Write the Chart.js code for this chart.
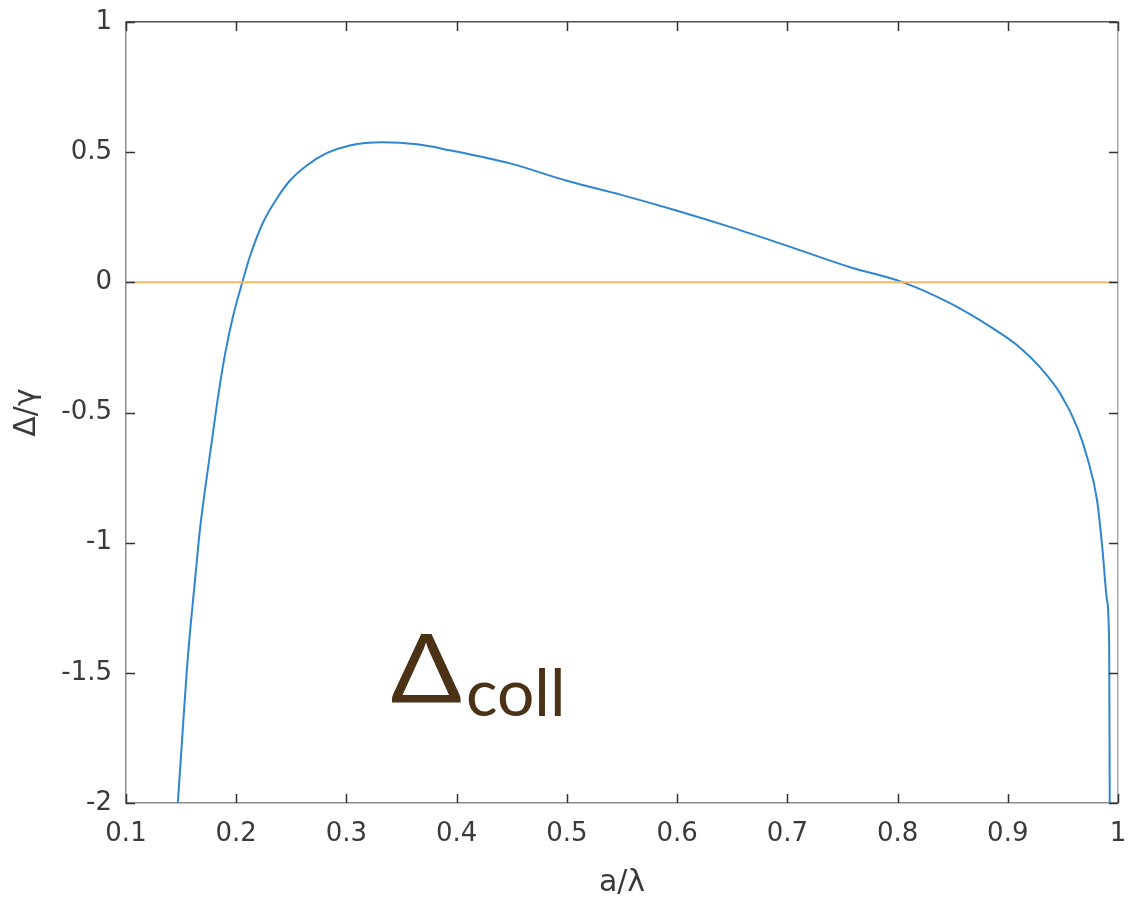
<!DOCTYPE html>
<html>
<head>
<meta charset="utf-8">
<script src="https://cdn.jsdelivr.net/npm/chart.js@4/dist/chart.umd.min.js"></script>
<style>
  html, body { margin: 0; padding: 0; background: #fff; }
  #wrap { width: 1134px; height: 901px; }
</style>
</head>
<body>
<div id="wrap"><canvas id="deltaChart"></canvas></div>
<script>
// a/lambda values and collective shift Delta/gamma
const aOverLambda = [
  0.147, 0.151, 0.155, 0.1588, 0.1626, 0.167, 0.172, 0.178, 0.1835, 0.190,
  0.197, 0.2055, 0.2125, 0.224, 0.237, 0.249, 0.264, 0.282, 0.303, 0.333,
  0.364, 0.394, 0.45, 0.5, 0.55, 0.6, 0.65, 0.7, 0.757, 0.805,
  0.848, 0.884, 0.908, 0.929, 0.948, 0.963, 0.972, 0.981, 0.986, 0.990,
  0.992, 0.9925
];
const deltaColl = [
  -2.0, -1.75, -1.5, -1.31, -1.145, -0.953, -0.787, -0.607, -0.44, -0.273,
  -0.132, 0.0, 0.1, 0.227, 0.323, 0.392, 0.449, 0.496, 0.526, 0.538,
  0.530, 0.507, 0.455, 0.39, 0.335, 0.275, 0.21, 0.14, 0.058, 0.0,
  -0.081, -0.17, -0.24, -0.325, -0.43, -0.557, -0.672, -0.837, -1.03, -1.22,
  -1.4, -2.0
];
const zeroLineX = [0.1, 1.0];
const zeroLineY = [0, 0];

const xTicks = [0.1, 0.2, 0.3, 0.4, 0.5, 0.6, 0.7, 0.8, 0.9, 1];
const yTicks = [-2, -1.5, -1, -0.5, 0, 0.5, 1];

const curvePts = aOverLambda.map((x, i) => ({ x: x, y: deltaColl[i] }));
const zeroPts = zeroLineX.map((x, i) => ({ x: x, y: zeroLineY[i] }));

const tickFont = { family: "DejaVu Sans", size: 26 };
const titleFont = { family: "DejaVu Sans", size: 30 };
const tickColor = "#3a3a3a";
const frameColor = "#8c8c8c";

// inward ticks on all four sides + annotation text
const frameTicks = {
  id: "frameTicks",
  afterDatasetsDraw(chart) {
    const ctx = chart.ctx;
    const a = chart.chartArea;
    const xs = chart.scales.x;
    const ys = chart.scales.y;
    const len = 9;
    ctx.save();
    ctx.strokeStyle = "#333";
    ctx.lineWidth = 1.5;
    ctx.beginPath();
    xTicks.forEach((v) => {
      const px = Math.round(xs.getPixelForValue(v)) + 0.5;
      ctx.moveTo(px, a.bottom);
      ctx.lineTo(px, a.bottom - len);
      ctx.moveTo(px, a.top);
      ctx.lineTo(px, a.top + len);
    });
    yTicks.forEach((v) => {
      const py = Math.round(ys.getPixelForValue(v)) + 0.5;
      ctx.moveTo(a.left, py);
      ctx.lineTo(a.left + len, py);
      ctx.moveTo(a.right, py);
      ctx.lineTo(a.right - len, py);
    });
    ctx.stroke();

    // Delta_coll label
    const tx = xs.getPixelForValue(0.34);
    const ty = ys.getPixelForValue(-1.613);
    ctx.fillStyle = "#4b3216";
    ctx.textBaseline = "alphabetic";
    ctx.textAlign = "left";
    ctx.font = "95px Lato";
    const w = ctx.measureText("Δ").width * 1.11;
    ctx.save();
    ctx.translate(tx, ty);
    ctx.scale(1.11, 1);
    ctx.fillText("Δ", 0, 0);
    ctx.restore();
    ctx.font = "66px Lato";
    ctx.fillText("coll", tx + w + 4, ty + 14);
    ctx.restore();
  },
};

const config = {
  type: "scatter",
  data: {
    datasets: [
      {
        data: zeroPts,
        showLine: true,
        borderColor: "#f2b866",
        borderWidth: 2,
        pointRadius: 0,
      },
      {
        data: curvePts,
        showLine: true,
        borderColor: "#2f86d0",
        borderWidth: 2,
        pointRadius: 0,
        cubicInterpolationMode: "monotone",
      },
    ],
  },
  options: {
    responsive: true,
    maintainAspectRatio: false,
    animation: false,
    layout: { padding: 0 },
    plugins: {
      legend: { display: false },
      tooltip: { enabled: false },
    },
    scales: {
      x: {
        type: "linear",
        position: "bottom",
        min: 0.1,
        max: 1,
        afterBuildTicks: (s) => { s.ticks = xTicks.map((v) => ({ value: v })); },
        afterFit: (s) => { s.height = 98; s.paddingLeft = 0; s.paddingRight = 0; },
        grid: { display: false, drawTicks: false },
        border: { display: true, color: frameColor, width: 1.5 },
        ticks: {
          font: tickFont,
          color: tickColor,
          padding: 16,
          maxRotation: 0,
          callback: (v) => String(Math.round(v * 10) / 10),
        },
        title: {
          display: true,
          text: "a/λ",
          font: titleFont,
          color: tickColor,
          padding: { top: 4, bottom: 0 },
        },
      },
      x2: {
        type: "linear",
        position: "top",
        min: 0.1,
        max: 1,
        afterFit: (s) => { s.height = 22; s.paddingLeft = 0; s.paddingRight = 0; },
        grid: { display: false, drawTicks: false },
        border: { display: true, color: "#555", width: 1.5 },
        ticks: { display: false },
      },
      y: {
        type: "linear",
        position: "left",
        min: -2,
        max: 1,
        afterBuildTicks: (s) => { s.ticks = yTicks.map((v) => ({ value: v })); },
        afterFit: (s) => { s.width = 126; s.paddingTop = 0; s.paddingBottom = 0; },
        grid: { display: false, drawTicks: false },
        border: { display: true, color: frameColor, width: 1.5 },
        ticks: {
          font: tickFont,
          color: tickColor,
          padding: 14,
          callback: (v) => String(v),
        },
        title: {
          display: true,
          text: "Δ/γ",
          font: titleFont,
          color: tickColor,
          padding: { top: 9, bottom: 0 },
        },
      },
      y2: {
        type: "linear",
        position: "right",
        min: -2,
        max: 1,
        afterFit: (s) => { s.width = 16; s.paddingTop = 0; s.paddingBottom = 0; },
        grid: { display: false, drawTicks: false },
        border: { display: true, color: "#aaa", width: 1.5 },
        ticks: { display: false },
      },
    },
  },
  plugins: [frameTicks],
};

let myChart = new Chart(document.getElementById("deltaChart"), config);
</script>
</body>
</html>
